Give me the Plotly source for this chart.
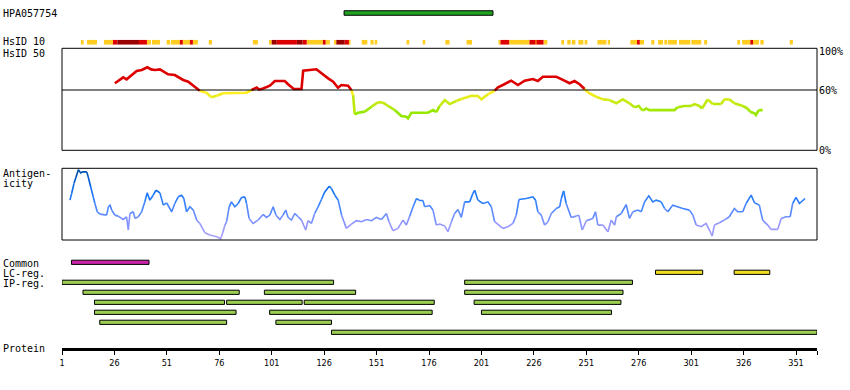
import plotly.graph_objects as go

# ---------------- data ----------------
protein_length = 360
tick_residues = [1, 26, 51, 76, 101, 126, 151, 176, 201, 226, 251, 276, 301, 326, 351]
identity_ticks = [0, 60, 100]
identity_ticktext = ["0%", "60%", "100%"]

antigen_name = "HPA057754"
antigen_start = [135.5]
antigen_end = [206.5]

# HsID 10 identity blocks (1 = low, 2 = high, 3 = very high)
hsid10_start = [10.0, 12.9, 21.0, 25.3, 27.4, 37.7, 41.5, 43.9, 50.9, 52.9, 57.2, 58.6, 62.0, 63.4,
                71.0, 92.0, 100.1, 101.0, 103.4, 113.0, 115.7, 117.7, 125.4, 126.7, 131.1, 131.8,
                135.8, 137.8, 143.9, 148.1, 150.1, 165.3, 173.0, 183.8, 193.9, 209.1, 210.1, 214.2,
                223.9, 226.8, 227.2, 230.6, 239.1, 241.9, 244.1, 247.2, 250.2, 256.3, 261.2, 272.0,
                275.2, 276.5, 282.0, 285.2, 288.2, 290.0, 295.2, 301.1, 307.2, 323.0, 325.3, 329.2,
                330.5, 334.0, 348.0]
hsid10_end = [11.3, 17.7, 25.3, 27.4, 37.7, 41.5, 43.4, 47.7, 52.5, 57.2, 58.6, 62.0, 63.4, 65.8,
              72.5, 94.4, 101.0, 103.4, 113.0, 115.7, 117.7, 125.4, 126.7, 128.7, 131.8, 135.8,
              137.8, 138.6, 146.6, 149.6, 151.3, 166.6, 174.2, 185.8, 196.5, 210.1, 214.2, 223.9,
              226.8, 227.2, 230.6, 232.4, 240.4, 243.5, 245.8, 249.6, 251.5, 260.6, 262.3, 275.2,
              276.5, 278.5, 283.4, 287.6, 289.6, 294.2, 300.6, 305.8, 308.6, 324.3, 329.2, 330.5,
              333.3, 335.6, 349.5]
hsid10_level = [1, 1, 1, 2, 3, 2, 1, 1, 1, 1, 2, 1, 2, 1,
                1, 1, 1, 3, 2, 3, 2, 1, 2, 1, 1, 3,
                2, 1, 1, 1, 1, 1, 1, 1, 1, 1, 2, 1,
                2, 1, 2, 1, 1, 1, 1, 1, 1, 1, 1, 1,
                2, 1, 1, 1, 1, 1, 1, 1, 1, 1, 1, 2,
                1, 1, 1]

# HsID 50 identity (%)
hsid50_pos = [26.2, 30.2, 31.8, 36.6, 39.0, 41.7, 43.5, 45.3, 47.7, 51.6, 54.8, 58.8, 61.2, 65.2,
              66.7, 69.9, 72.3, 74.7, 77.8, 89.0, 91.4, 93.8, 95.0, 96.9, 100.1, 102.5, 104.9,
              107.2, 108.8, 111.5, 115.2, 116.0, 122.3, 124.7, 127.9, 130.3, 132.6, 134.2, 137.4,
              139.0, 139.8, 140.6, 142.2, 145.4, 148.6, 151.7, 154.1, 156.5, 159.6, 162.8, 165.2,
              166.0, 167.6, 175.5, 177.9, 179.5, 181.1, 183.5, 185.8, 189.0, 191.4, 196.2, 199.3,
              201.0, 204.1, 207.3, 208.9, 211.2, 215.2, 218.4, 221.6, 225.5, 227.9, 230.3, 236.7,
              240.6, 243.0, 245.4, 247.8, 250.2, 251.7, 255.7, 258.9, 262.1, 265.3, 268.4, 271.6,
              274.0, 276.0, 277.9, 279.6, 281.1, 293.0, 294.6, 297.8, 301.0, 302.6, 305.0, 306.2,
              308.9, 311.3, 315.3, 316.9, 319.2, 321.6, 325.6, 327.9, 329.1, 331.2, 331.9, 333.2,
              335.1]
hsid50_val = [66.7, 72.6, 70.6, 78.9, 79.9, 82.6, 80.5, 79.9, 80.5, 75.6, 74.9, 70.0, 68.3, 62.3,
              59.3, 57.3, 52.7, 54.3, 56.7, 57.3, 60.0, 62.4, 60.5, 61.6, 64.3, 69.0, 69.0,
              69.0, 65.7, 61.0, 61.0, 79.2, 80.6, 76.6, 71.6, 68.3, 62.3, 65.0, 64.3,
              60.0, 55.0, 35.8, 37.4, 38.5, 43.4, 47.8, 47.4, 44.1, 40.1, 34.1, 33.5,
              31.8, 37.4, 37.4, 40.1, 38.0, 44.1, 50.0, 46.0, 49.0, 51.0, 54.3, 54.0,
              50.7, 55.7, 59.3, 62.7, 65.0, 69.3, 65.0, 69.3, 70.9, 68.9, 73.2, 73.2,
              69.3, 66.7, 68.9, 65.7, 61.0, 57.7, 53.3, 50.7, 50.0, 46.8, 50.7, 46.8,
              42.8, 44.1, 39.4, 41.6, 40.0, 40.0, 42.8, 44.1, 44.1, 46.0, 44.1, 41.6,
              50.7, 46.0, 46.0, 50.7, 50.7, 46.8, 44.1, 41.6, 38.4, 36.8, 35.1, 40.0,
              40.0]

# Antigenicity (relative, 0-100)
antig_pos = [4.8, 5.6, 6.7, 7.7, 8.8, 9.9, 10.9, 12.8, 13.5, 14.7, 15.9, 16.7, 17.8, 19.1, 22.3,
             23.1, 23.9, 24.7, 26.2, 27.8, 30.2, 31.8, 32.6, 33.4, 35.0, 35.8, 37.4, 39.0, 40.5,
             41.6, 42.9, 44.5, 45.8, 47.7, 49.3, 50.9, 53.3, 54.8, 56.4, 58.0, 59.1, 60.4, 62.0,
             63.6, 65.2, 66.7, 69.1, 71.5, 73.9, 75.5, 76.6, 77.6, 78.7, 79.5, 80.7, 81.8, 83.4,
             85.0, 86.6, 88.2, 89.0, 90.2, 92.1, 94.5, 96.9, 98.5, 100.1, 101.7, 103.0, 104.9,
             106.4, 107.7, 108.8, 110.4, 112.0, 113.6, 115.2, 117.2, 118.3, 119.9, 121.5, 123.1,
             124.7, 126.3, 128.4, 129.5, 131.1, 132.7, 134.3, 136.6, 139.0, 141.4, 143.8, 146.2,
             148.6, 150.9, 153.3, 155.7, 156.9, 158.8, 161.2, 163.6, 165.2, 166.8, 168.4, 170.0,
             171.6, 173.1, 173.9, 176.3, 177.9, 179.5, 181.1, 183.5, 185.0, 186.7, 188.2, 189.8,
             191.4, 193.0, 195.4, 196.9, 197.8, 199.3, 201.7, 204.1, 205.7, 207.3, 209.7, 211.2,
             213.6, 216.0, 217.6, 218.9, 222.4, 225.5, 226.8, 227.9, 229.5, 231.1, 232.7, 234.3,
             236.7, 238.3, 239.1, 240.2, 241.4, 243.8, 246.2, 247.4, 249.1, 251.0, 254.1, 255.4,
             256.5, 258.9, 261.3, 262.9, 264.5, 265.3, 267.7, 270.0, 271.6, 273.2, 275.6, 277.2,
             278.8, 280.8, 282.7, 284.3, 286.7, 288.3, 289.9, 292.2, 297.0, 300.2, 301.8, 303.4,
             305.8, 308.1, 309.7, 311.0, 312.1, 314.5, 317.3, 319.2, 321.6, 323.2, 325.6, 327.2,
             329.6, 331.2, 333.5, 335.1, 337.5, 339.1, 342.3, 343.9, 346.2, 348.2, 349.4, 351.0,
             352.6, 354.2, 355.3]
antig_val = [55.6, 64.8, 78.7, 87.9, 98.1, 93.5, 95.0, 95.0, 87.9, 74.0, 60.2, 50.9, 39.4, 36.1, 34.7,
             46.3, 48.6, 41.7, 34.7, 33.3, 28.7, 32.4, 13.9, 37.0, 39.4, 30.1, 32.4, 39.4, 53.2,
             65.7, 55.6, 62.5, 69.4, 65.7, 48.6, 51.9, 39.4, 50.9, 60.2, 62.5, 57.9, 39.4, 46.3,
             41.7, 27.8, 23.1, 10.2, 6.9, 5.6, 3.7, 1.4, 9.7, 20.8, 25.5, 46.3, 53.2, 46.3,
             50.9, 59.3, 60.2, 50.9, 30.1, 23.1, 27.8, 35.6, 31.5, 34.7, 46.3, 34.7, 28.7,
             34.7, 41.7, 31.5, 27.8, 37.0, 32.4, 27.8, 13.9, 26.9, 23.1, 37.0, 46.3,
             56.5, 67.1, 75.0, 71.8, 62.5, 55.6, 34.7, 16.2, 22.2, 26.9, 25.5, 28.7,
             26.9, 31.5, 28.7, 37.0, 25.5, 13.0, 16.2, 27.8, 20.8, 33.3, 46.3, 57.9,
             55.0, 55.0, 46.5, 48.0, 41.7, 20.8, 22.2, 19.4, 11.6, 25.5, 37.0, 42.6,
             31.5, 53.2, 53.2, 64.8, 69.4, 55.6, 50.9, 53.2, 46.3, 25.5, 19.4, 16.2,
             18.5, 23.1, 34.7, 56.5, 57.9, 60.2, 55.6, 39.4, 34.7, 20.8, 25.5, 37.0,
             44.0, 46.3, 57.9, 68.5, 50.9, 31.5, 33.3, 34.7, 13.9, 26.9, 30.1, 39.4,
             20.8, 20.8, 11.6, 27.8, 20.8, 32.4, 37.0, 49.5, 30.1, 39.4, 41.7, 39.4,
             53.2, 61.6, 53.2, 55.6, 53.2, 44.0, 39.4, 48.6, 44.0, 41.7, 34.7, 20.8,
             18.5, 23.1, 13.9, 5.6, 20.8, 24.1, 28.7, 32.4, 44.0, 39.4, 39.4, 50.9,
             62.5, 51.9, 48.6, 27.8, 20.8, 14.8, 14.8, 30.1, 32.4, 32.4, 50.9, 59.3,
             50.9, 55.6, 57.9]

common_start = [5.5]
common_end = [42.5]
lc_start = [284.0, 321.5]
lc_end = [306.5, 338.5]
ip_start = [1.0, 193.0, 11.0, 97.5, 193.0, 16.5, 79.5, 116.5, 197.5, 16.5, 100.0, 201.0, 19.0, 103.0, 129.5]
ip_end = [130.5, 273.0, 85.5, 141.0, 268.5, 78.5, 115.5, 178.5, 267.5, 84.0, 177.5, 263.0, 79.5, 129.5, 361.0]
ip_track = [0, 0, 1, 1, 1, 2, 2, 2, 2, 3, 3, 3, 4, 4, 5]

# ---------------- layout helpers ----------------
W, H = 850, 390
PLOT_L, PLOT_R = 62, 817


def py(p):
    return 1 - p / H


def px(p):
    return (p - PLOT_L) / (PLOT_R - PLOT_L)


LABEL_FONT = dict(family="DejaVu Sans Mono", size=10, color="black")
fig = go.Figure()


def hsid50_color(v):
    if v >= 60:
        return "#DD0000"
    t = (58 - v) / 20.0
    t = min(max(t, 0.0), 1.0)
    t = round(t * 8) / 8
    r = int(255 - t * (255 - 150))
    g = int(238 - t * (238 - 232))
    b = int(34 * (1 - t))
    return "#%02X%02X%02X" % (r, g, b)


ANT_STOPS = [(0, (175, 165, 255)), (20, (150, 150, 255)), (35, (100, 140, 255)), (50, (55, 130, 255)),
             (65, (20, 115, 245)), (80, (0, 95, 215)), (100, (0, 70, 160))]


def antig_color(v):
    v = round(v / 5) * 5
    for (a, ca), (b, cb) in zip(ANT_STOPS[:-1], ANT_STOPS[1:]):
        if a <= v <= b:
            t = (v - a) / (b - a)
            c = [int(ca[i] + t * (cb[i] - ca[i])) for i in range(3)]
            return "#%02X%02X%02X" % tuple(c)
    return "#%02X%02X%02X" % ANT_STOPS[-1][1]


def colored_line(xs, ys, cfn, yaxis, width):
    n = len(xs)
    cols = [cfn((ys[i] + ys[i + 1]) / 2) for i in range(n - 1)]
    s0 = 0
    for s in range(1, n - 1):
        if cols[s] != cols[s0]:
            fig.add_trace(go.Scatter(x=xs[s0:s + 1], y=ys[s0:s + 1], mode="lines",
                                     line=dict(color=cols[s0], width=width), yaxis=yaxis,
                                     hoverinfo="skip", showlegend=False))
            s0 = s
    fig.add_trace(go.Scatter(x=xs[s0:n], y=ys[s0:n], mode="lines",
                             line=dict(color=cols[s0], width=width), yaxis=yaxis,
                             hoverinfo="skip", showlegend=False))


def hbars(starts, ends, rows, color, yaxis, width, linew=1):
    fig.add_trace(go.Bar(orientation="h", base=starts, x=[e - s for s, e in zip(starts, ends)],
                         y=rows, width=width, yaxis=yaxis,
                         marker=dict(color=color, line=dict(color="black", width=linew)),
                         hoverinfo="skip", showlegend=False))


# antigen bar
hbars(antigen_start, antigen_end, [0], "#22A322", "y2", 0.45)

# HsID 10
lvl_colors = {1: "#FFCC22", 2: "#DD0000", 3: "#990000"}
for lv in (1, 2, 3):
    st = [s for s, l in zip(hsid10_start, hsid10_level) if l == lv]
    en = [e for e, l in zip(hsid10_end, hsid10_level) if l == lv]
    hbars(st, en, [0] * len(st), lvl_colors[lv], "y3", 1.0, linew=0)

# HsID 50
colored_line(hsid50_pos, hsid50_val, hsid50_color, "y4", 2.6)

# Antigenicity
colored_line(antig_pos, antig_val, antig_color, "y5", 1.6)

# feature rows
hbars(common_start, common_end, [0], "#CC22AA", "y", 0.42)
hbars(lc_start, lc_end, [1] * len(lc_start), "#EEDD22", "y", 0.42)
hbars(ip_start, ip_end, [t + 2 for t in ip_track], "#9ACD50", "y", 0.42)

shapes = [
    dict(type="rect", xref="x domain", yref="y4 domain", x0=0, x1=1, y0=0, y1=1,
         line=dict(color="black", width=1)),
    dict(type="line", xref="x domain", yref="y4", x0=0, x1=1, y0=60, y1=60,
         line=dict(color="black", width=1)),
    dict(type="rect", xref="x domain", yref="y5 domain", x0=0, x1=1, y0=0, y1=1,
         line=dict(color="black", width=1)),
]

labels = [(antigen_name, 13.5), ("HsID 10", 41.3), ("HsID 50", 53.2), ("Antigen-", 173.5), ("icity", 183.5),
          ("Common", 263.5), ("LC-reg.", 273.5), ("IP-reg.", 283.5), ("Protein", 348)]
annotations = [dict(text=t, x=px(1), y=py(yy), xref="paper", yref="paper", xanchor="left",
                    yanchor="middle", showarrow=False, font=LABEL_FONT) for t, yy in labels]
# identity scale labels on the right of the HsID 50 panel
for v, t in zip(identity_ticks, identity_ticktext):
    annotations.append(dict(text=t, x=1, xref="x domain", y=v, yref="y4", xanchor="left",
                            yanchor="middle", xshift=0, yshift=(-2 if v == max(identity_ticks) else 0),
                            showarrow=False, font=LABEL_FONT))

hidden = dict(visible=False, fixedrange=True, showgrid=False, zeroline=False, automargin=False)

fig.update_layout(
    width=W, height=H,
    margin=dict(l=PLOT_L, r=W - PLOT_R, t=0, b=0, pad=0, autoexpand=False),
    paper_bgcolor="white", plot_bgcolor="white", barmode="overlay", showlegend=False,
    shapes=shapes, annotations=annotations,
    xaxis=dict(domain=[0, 1], range=[1, protein_length + 1], anchor="free", position=py(348.7),
               showline=True, linewidth=3, linecolor="black", ticks="outside", ticklen=4,
               tickwidth=1, tickcolor="black",
               tickvals=tick_residues + [protein_length + 1],
               ticktext=[str(t) for t in tick_residues] + [""],
               tickfont=dict(family="DejaVu Sans Condensed, DejaVu Sans", size=9, color="black"),
               showgrid=False, zeroline=False, fixedrange=True, automargin=False),
    yaxis=dict(domain=[py(337.3), py(257.3)], range=[7.5, -0.5], anchor="x", **hidden),
    yaxis2=dict(domain=[py(18), py(8)], range=[-0.5, 0.5], anchor="x", **hidden),
    yaxis3=dict(domain=[py(44.7), py(39.7)], range=[-0.5, 0.5], anchor="x", **hidden),
    yaxis4=dict(domain=[py(150.3), py(48.3)], range=[0, 101.5], anchor="x", **hidden),
    yaxis5=dict(domain=[py(240), py(168.3)], range=[0, 100], anchor="x", **hidden),
)

fig.write_html("out.html", config={"displayModeBar": False},
               post_script="document.body.style.margin='0px';document.body.style.overflow='hidden';")
